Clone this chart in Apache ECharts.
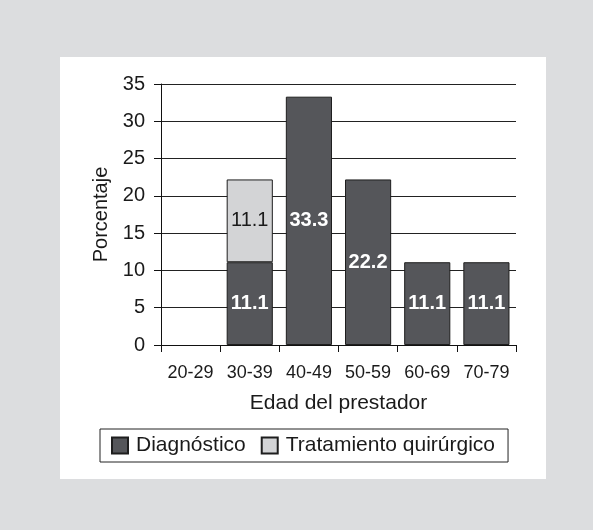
<!DOCTYPE html>
<html>
<head>
<meta charset="utf-8">
<script src="https://cdn.jsdelivr.net/npm/echarts@6/dist/echarts.min.js"></script>
<style>
html,body{margin:0;padding:0;background:#dcdddf;}
#panel{position:absolute;left:60px;top:57px;width:486px;height:422px;background:#fff;}
#chart{position:absolute;left:0;top:0;width:593px;height:530px;}
</style>
</head>
<body>
<div id="panel"></div>
<div id="chart"></div>
<script>
const categories = ['20-29', '30-39', '40-49', '50-59', '60-69', '70-79'];
const diagnostico = [null, 11.1, 33.3, 22.2, 11.1, 11.1];
const tratamiento = [null, 11.1, null, null, null, null];
const yTicks = [0, 5, 10, 15, 20, 25, 30, 35];

const FONT = '"Liberation Sans", Arial, Helvetica, sans-serif';
const chart = echarts.init(document.getElementById('chart'), null, {renderer: 'canvas'});
chart.setOption({
  backgroundColor: 'transparent',
  animation: false,
  textStyle: {fontFamily: FONT, color: '#1a1a1a'},
  grid: {left: 161, right: 77, top: 84, bottom: 185, containLabel: false},
  legend: {
    left: 100, top: 429,
    orient: 'horizontal',
    icon: 'rect',
    itemWidth: 16, itemHeight: 16, itemGap: 15,
    padding: [6, 13, 6, 11],
    borderColor: '#222', borderWidth: 1,
    textStyle: {fontSize: 21, color: '#1a1a1a', fontFamily: FONT, padding: [0, 0, 0, 3]},
    data: ['Diagnóstico', 'Tratamiento quirúrgico']
  },
  xAxis: {
    type: 'category',
    data: categories,
    name: 'Edad del prestador',
    nameLocation: 'middle',
    nameGap: 48,
    nameTextStyle: {fontSize: 21, color: '#1a1a1a', fontFamily: FONT},
    axisLine: {lineStyle: {color: '#111', width: 1}},
    axisTick: {show: true, length: 7, lineStyle: {color: '#111'}},
    axisLabel: {interval: 0, fontSize: 18, color: '#1a1a1a', margin: 19, fontFamily: FONT}
  },
  yAxis: {
    type: 'value',
    min: 0, max: 35, interval: 5,
    name: 'Porcentaje',
    nameLocation: 'middle',
    nameGap: 48,
    nameTextStyle: {fontSize: 20, color: '#1a1a1a', fontFamily: FONT},
    axisLine: {show: true, lineStyle: {color: '#111', width: 1}},
    axisTick: {show: true, length: 7, lineStyle: {color: '#111'}},
    axisLabel: {fontSize: 20, color: '#1a1a1a', margin: 16, fontFamily: FONT,
      formatter: v => yTicks.includes(v) ? String(v) : ''},
    splitLine: {show: true, lineStyle: {color: '#222', width: 1}}
  },
  series: [
    {
      name: 'Diagnóstico', type: 'bar', stack: 'total',
      data: diagnostico,
      barCategoryGap: '22%',
      itemStyle: {color: '#55565a', borderColor: '#1e1e1e', borderWidth: 1},
      label: {show: true, position: 'inside', color: '#ffffff', fontWeight: 'bold',
        fontSize: 20, fontFamily: FONT, formatter: p => p.value == null ? '' : p.value.toFixed(1)}
    },
    {
      name: 'Tratamiento quirúrgico', type: 'bar', stack: 'total',
      data: tratamiento,
      barCategoryGap: '22%',
      itemStyle: {color: '#d3d4d6', borderColor: '#1e1e1e', borderWidth: 1},
      label: {show: true, position: 'inside', color: '#1a1a1a',
        fontSize: 20, fontFamily: FONT, formatter: p => p.value == null ? '' : p.value.toFixed(1)}
    }
  ]
});
</script>
</body>
</html>
